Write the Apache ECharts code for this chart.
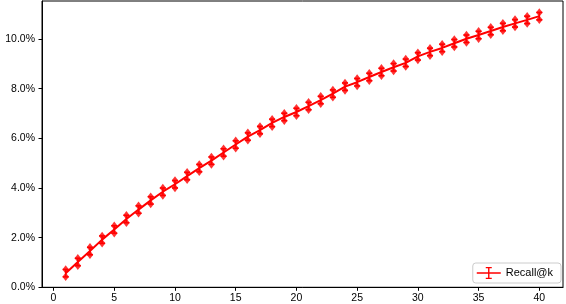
<!DOCTYPE html>
<html><head><meta charset="utf-8">
<script src="https://cdn.jsdelivr.net/npm/echarts@6/dist/echarts.min.js"></script>
<style>html,body{margin:0;padding:0;background:#fff}#c{width:566px;height:304px}</style>
</head><body><div id="c"></div>
<script>
const ks = [1,2,3,4,5,6,7,8,9,10,11,12,13,14,15,16,17,18,19,20,21,22,23,24,25,26,27,28,29,30,31,32,33,34,35,36,37,38,39,40];
const recall = [0.57,1.02,1.46,1.92,2.33,2.75,3.13,3.50,3.85,4.15,4.48,4.80,5.10,5.43,5.75,6.07,6.33,6.62,6.86,7.06,7.30,7.54,7.80,8.08,8.26,8.47,8.67,8.86,9.04,9.30,9.48,9.64,9.83,10.01,10.16,10.32,10.48,10.63,10.77,10.92];
const errHalf = [0.15,0.15,0.15,0.15,0.15,0.15,0.15,0.15,0.15,0.15,0.15,0.15,0.15,0.15,0.15,0.15,0.15,0.15,0.15,0.15,0.15,0.15,0.15,0.15,0.15,0.15,0.15,0.15,0.15,0.15,0.15,0.15,0.15,0.15,0.15,0.15,0.15,0.15,0.15,0.15];
const xTicks = [0,5,10,15,20,25,30,35,40];
const yTicks = [0,2,4,6,8,10];
const seriesName = 'Recall@k';

const lineData = ks.map((k,i)=>[k, recall[i]]);
const upData = ks.map((k,i)=>[k, recall[i]+errHalf[i]]);
const loData = ks.map((k,i)=>[k, recall[i]-errHalf[i]]);
const errData = ks.map((k,i)=>[k, recall[i]-errHalf[i], recall[i]+errHalf[i]]);
const font = 'Liberation Sans, Arial, Helvetica, sans-serif';
const icon = 'path://M0,5.2H24V6.8H0Z M11.3,0H12.7V12H11.3Z M9,0H15V1.2H9Z M9,10.8H15V12H9Z';

const chart = echarts.init(document.getElementById('c'), null, {renderer:'canvas'});
chart.setOption({
  animation:false,
  backgroundColor:'#fff',
  grid:{left:42,right:3,top:1,bottom:16.7,show:true,borderColor:'#000',borderWidth:1,backgroundColor:'transparent'},
  xAxis:{type:'value',min:-0.95,max:41.95,
    axisLine:{show:true,onZero:false,lineStyle:{color:'#000',width:1}},
    splitLine:{show:false},
    axisTick:{show:true,length:3.5,lineStyle:{color:'#000'},customValues:xTicks},
    axisLabel:{color:'#000',fontSize:10.5,fontFamily:font,margin:5,customValues:xTicks,formatter:v=>String(v)}},
  yAxis:{type:'value',min:0,max:11.53,
    axisLine:{show:true,onZero:false,lineStyle:{color:'#000',width:1}},
    splitLine:{show:false},
    axisTick:{show:true,length:3.5,lineStyle:{color:'#000'},customValues:yTicks},
    axisLabel:{color:'#000',fontSize:10.5,fontFamily:font,margin:7,customValues:yTicks,formatter:v=>v.toFixed(1)+'%'}},
  legend:{right:5,bottom:21,orient:'horizontal',itemWidth:24,itemHeight:12,itemGap:8,
    padding:[4,8,4,4],borderColor:'#cccccc',borderWidth:1,borderRadius:3,backgroundColor:'#fff',
    textStyle:{color:'#000',fontSize:11,fontFamily:font},
    data:[{name:seriesName,icon:icon}]},
  series:[
    {name:seriesName,type:'line',data:lineData,showSymbol:false,symbol:'none',
      lineStyle:{color:'#ff0000',width:2},itemStyle:{color:'#ff0000'},z:3},
    {type:'custom',data:errData,z:4,
      renderItem:function(params,api){
        const x=api.value(0);
        const p1=api.coord([x,api.value(1)]);
        const p2=api.coord([x,api.value(2)]);
        return {type:'group',children:[
          {type:'line',shape:{x1:p1[0],y1:p1[1],x2:p2[0],y2:p2[1]},style:{stroke:'#ff0000',lineWidth:1.5}},
          {type:'line',shape:{x1:p1[0]-3,y1:p1[1],x2:p1[0]+3,y2:p1[1]},style:{stroke:'#ff0000',lineWidth:1.5}},
          {type:'line',shape:{x1:p2[0]-3,y1:p2[1],x2:p2[0]+3,y2:p2[1]},style:{stroke:'#ff0000',lineWidth:1.5}}
        ]};
      }},
    {type:'scatter',data:upData,symbol:'diamond',symbolSize:[6.5,8.5],itemStyle:{color:'#ff0000'},z:5},
    {type:'scatter',data:loData,symbol:'diamond',symbolSize:[6.5,8.5],itemStyle:{color:'#ff0000'},z:5}
  ]
});
</script></body></html>
